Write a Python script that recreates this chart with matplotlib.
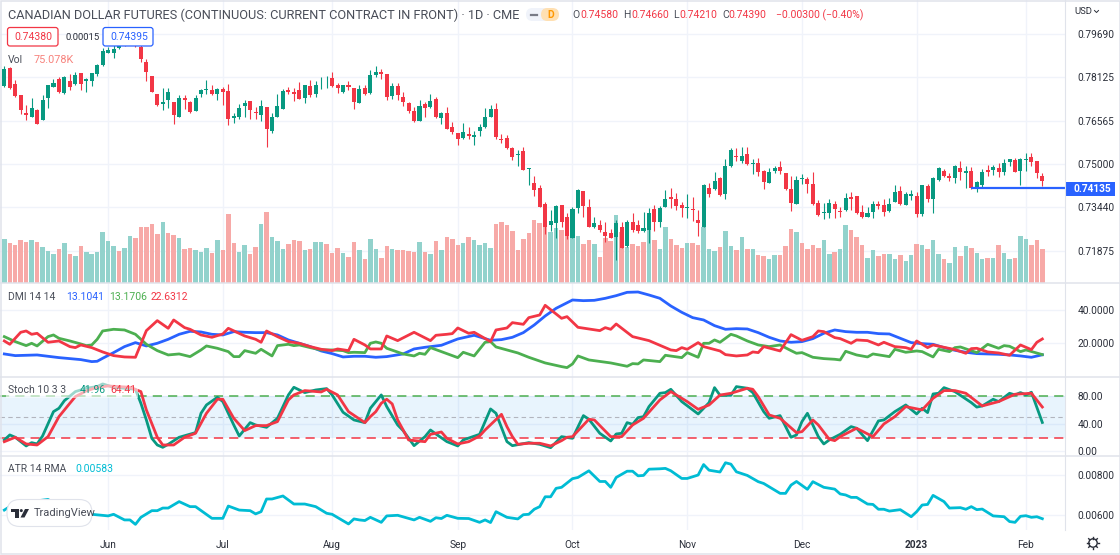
import matplotlib
matplotlib.use("Agg")
import matplotlib.pyplot as plt
from matplotlib.patches import FancyBboxPatch, Polygon, Circle, Rectangle

plt.rcParams['font.family'] = ['Roboto', 'DejaVu Sans']

W = 1120
H = 555

# daily candles, Canadian dollar futures
opens = [.7782,.7844,.7788,.7747,.7682,.7670,.7694,.7658,.7736,.7778,
         .7807,.7754,.7798,.7788,.7826,.7798,.7800,.7824,.7855,.7901,
         .7898,.7916,.7952,.7934,.7958,.7922,.7867,.7818,.7753,.7716,
         .7730,.7723,.7670,.7737,.7723,.7692,.7753,.7768,.7768,.7753,
         .7769,.7763,.7667,.7669,.7707,.7727,.7688,.7676,.7706,.7617,
         .7671,.7698,.7765,.7759,.7768,.7736,.7781,.7753,.7794,.7805,
         .7810,.7784,.7761,.7783,.7772,.7721,.7775,.7754,.7821,.7832,
         .7824,.7745,.7780,.7741,.7720,.7691,.7656,.7715,.7704,.7733,
         .7666,.7682,.7634,.7612,.7594,.7607,.7598,.7619,.7632,.7671,
         .7698,.7590,.7595,.7559,.7532,.7547,.7482,.7432,.7414,.7357,
         .7280,.7289,.7351,.7309,.7235,.7340,.7402,.7345,.7274,.7280,
         .7256,.7250,.7238,.7274,.7206,.7291,.7280,.7259,.7262,.7338,
         .7292,.7345,.7381,.7373,.7352,.7342,.7339,.7298,.7274,.7414,
         .7410,.7450,.7393,.7494,.7530,.7511,.7535,.7500,.7505,.7475,
         .7433,.7476,.7489,.7466,.7410,.7357,.7446,.7446,.7428,.7361,
         .7325,.7322,.7357,.7331,.7334,.7382,.7385,.7327,.7310,.7328,
         .7355,.7352,.7331,.7364,.7403,.7352,.7384,.7385,.7320,.7422,
         .7374,.7441,.7474,.7456,.7451,.7484,.7469,.7474,.7412,.7426,
         .7478,.7480,.7484,.7471,.7508,.7516,.7475,.7516,.7525,.7511,.7458]
highs = [.7853,.7850,.7802,.7747,.7711,.7737,.7697,.7747,.7786,.7806,
         .7812,.7817,.7824,.7831,.7826,.7809,.7829,.7859,.7916,.7922,
         .7946,.7964,.7964,.7970,.7970,.7946,.7879,.7818,.7753,.7772,
         .7772,.7723,.7748,.7748,.7726,.7748,.7771,.7802,.7784,.7774,
         .7776,.7788,.7685,.7715,.7730,.7727,.7704,.7730,.7706,.7682,
         .7752,.7769,.7776,.7772,.7794,.7786,.7802,.7800,.7812,.7817,
         .7831,.7790,.7786,.7799,.7772,.7784,.7784,.7838,.7854,.7842,
         .7824,.7790,.7790,.7758,.7722,.7704,.7730,.7724,.7751,.7740,
         .7687,.7706,.7652,.7613,.7649,.7632,.7620,.7644,.7700,.7712,
         .7718,.7607,.7605,.7561,.7550,.7561,.7487,.7457,.7423,.7364,
         .7334,.7351,.7351,.7322,.7344,.7410,.7404,.7374,.7310,.7298,
         .7292,.7265,.7298,.7292,.7298,.7325,.7298,.7327,.7340,.7352,
         .7350,.7406,.7412,.7394,.7364,.7392,.7382,.7334,.7428,.7430,
         .7472,.7454,.7517,.7559,.7556,.7560,.7561,.7517,.7520,.7478,
         .7484,.7493,.7511,.7469,.7458,.7457,.7464,.7452,.7472,.7370,
         .7358,.7375,.7368,.7344,.7397,.7398,.7386,.7351,.7346,.7368,
         .7368,.7373,.7376,.7423,.7421,.7399,.7405,.7398,.7424,.7428,
         .7452,.7489,.7481,.7466,.7496,.7511,.7494,.7490,.7439,.7482,
         .7496,.7496,.7502,.7519,.7519,.7520,.7520,.7538,.7540,.7512,.7466]
lows = [.7778,.7769,.7742,.7680,.7658,.7668,.7644,.7658,.7700,.7776,
        .7754,.7752,.7766,.7786,.7766,.7761,.7781,.7817,.7853,.7898,
        .7880,.7913,.7925,.7930,.7922,.7867,.7798,.7759,.7709,.7694,
        .7700,.7644,.7668,.7697,.7682,.7690,.7742,.7752,.7750,.7730,
        .7714,.7642,.7649,.7661,.7670,.7663,.7661,.7656,.7562,.7613,
        .7670,.7697,.7752,.7728,.7733,.7721,.7742,.7740,.7769,.7772,
        .7776,.7757,.7757,.7766,.7697,.7718,.7747,.7752,.7814,.7807,
        .7730,.7733,.7730,.7709,.7685,.7652,.7654,.7670,.7700,.7666,
        .7644,.7625,.7608,.7567,.7591,.7589,.7567,.7601,.7631,.7670,
        .7589,.7574,.7553,.7514,.7493,.7478,.7426,.7386,.7346,.7247,
        .7260,.7232,.7272,.7229,.7232,.7325,.7308,.7272,.7270,.7256,
        .7220,.7232,.7156,.7196,.7202,.7256,.7250,.7254,.7217,.7260,
        .7274,.7344,.7340,.7334,.7310,.7304,.7296,.7241,.7272,.7382,
        .7408,.7385,.7373,.7490,.7512,.7502,.7495,.7464,.7458,.7411,
        .7430,.7469,.7464,.7406,.7332,.7356,.7428,.7394,.7352,.7313,
        .7302,.7304,.7304,.7310,.7332,.7334,.7320,.7304,.7308,.7304,
        .7337,.7313,.7328,.7362,.7352,.7351,.7370,.7310,.7313,.7362,
        .7322,.7439,.7452,.7440,.7430,.7442,.7412,.7410,.7400,.7412,
        .7457,.7460,.7452,.7460,.7494,.7471,.7426,.7475,.7494,.7450,.7421]
closes = [.7841,.7772,.7745,.7696,.7675,.7700,.7644,.7730,.7786,.7790,
          .7759,.7812,.7778,.7820,.7788,.7805,.7826,.7856,.7908,.7910,
          .7913,.7946,.7928,.7958,.7925,.7877,.7831,.7759,.7712,.7723,
          .7759,.7675,.7738,.7730,.7688,.7738,.7766,.7770,.7753,.7769,
          .7759,.7662,.7673,.7703,.7718,.7696,.7682,.7709,.7625,.7670,
          .7709,.7763,.7758,.7751,.7734,.7783,.7748,.7786,.7796,.7807,
          .7781,.7772,.7783,.7778,.7724,.7770,.7751,.7820,.7832,.7823,
          .7742,.7780,.7748,.7722,.7690,.7656,.7707,.7702,.7726,.7670,
          .7685,.7627,.7615,.7590,.7615,.7601,.7605,.7632,.7670,.7697,
          .7597,.7588,.7558,.7524,.7535,.7480,.7484,.7408,.7346,.7274,
          .7295,.7349,.7292,.7242,.7337,.7408,.7349,.7274,.7286,.7262,
          .7242,.7235,.7289,.7199,.7292,.7261,.7259,.7270,.7322,.7290,
          .7343,.7374,.7374,.7349,.7340,.7344,.7334,.7288,.7426,.7393,
          .7440,.7388,.7493,.7549,.7526,.7529,.7501,.7504,.7472,.7435,
          .7472,.7487,.7474,.7410,.7361,.7442,.7448,.7429,.7355,.7316,
          .7327,.7361,.7338,.7326,.7378,.7374,.7322,.7309,.7325,.7355,
          .7349,.7327,.7356,.7399,.7357,.7393,.7393,.7320,.7423,.7373,
          .7450,.7484,.7458,.7450,.7493,.7471,.7475,.7412,.7434,.7472,
          .7471,.7488,.7471,.7502,.7517,.7472,.7518,.7519,.7506,.7468,.7439]

# volume in thousands, u / d is the bar colour
volumes = [97.9,89.0,84.6,96.5,91.3,95.7,90.5,80.1,71.2,65.3,
           74.9,89.0,63.8,60.1,82.4,69.0,63.8,69.0,112.8,92.8,
           82.4,72.0,77.9,104.6,100.9,125.4,123.9,131.3,109.1,136.5,
           111.3,106.8,100.2,76.4,77.9,73.5,69.0,77.9,66.8,95.0,
           72.7,152.9,89.0,69.0,85.3,65.3,80.1,131.3,158.0,101.7,
           92.8,74.9,86.8,95.0,92.8,72.7,74.9,91.3,91.3,86.8,
           67.5,77.9,66.8,58.6,91.3,72.7,52.7,97.9,74.9,55.7,
           81.6,74.9,72.7,72.7,70.5,69.0,91.3,69.0,65.3,92.8,
           72.7,101.7,97.9,83.8,89.0,101.7,95.0,83.8,89.0,77.9,
           131.3,136.5,129.1,116.5,72.7,98.7,111.3,140.2,132.8,146.2,
           113.5,123.2,118.0,109.1,100.9,105.4,87.6,96.5,87.6,57.9,
           100.2,92.8,151.4,113.5,80.9,87.6,82.4,91.3,125.4,95.0,
           74.9,125.4,97.9,83.8,77.9,89.0,89.0,83.8,125.4,76.4,
           71.2,80.1,116.5,82.4,74.2,101.7,76.4,76.4,61.6,60.1,
           52.7,63.1,63.1,81.6,120.2,114.3,89.0,74.9,83.8,77.9,
           95.0,65.3,69.0,76.4,129.1,118.0,101.7,83.8,56.4,72.7,
           60.1,63.8,65.3,54.2,61.6,49.0,61.6,87.6,85.3,74.9,
           96.5,65.3,52.7,45.3,80.1,60.1,81.6,78.7,67.5,54.2,
           54.9,54.9,83.8,67.5,54.2,56.4,103.9,97.9,83.8,96.5,75.1]
vol_dir = ("udddd" "uduuu" "dudud" "uuuuu" "uduud" "ddddu" "ddudd" "uuudu"
           "ddduu" "ddudu" "uuddd" "uduud" "ddudd" "uduud" "duddd" "dudud"
           "udddu" "duuuu" "ddddd" "ddddd" "uuddu" "uddud" "ddudu" "dddud"
           "uuddd" "udduu" "uduud" "ududd" "uuddd" "udddd" "uuduu" "ddduu"
           "dduud" "uudud" "uuduu" "duduu" "duduu" "duuddd")

dmi_plus_x = [0,2,4,6,8,10,12,14,16,17,18,20,22,24,26,28,30,32,34,36,38,40,42,44,46,48,50,52,54,56,58,60,62,64,66,68,
              70,73,75,77,80,83,86,89,91,93,95,97,99,101,104,106,108,110,112,114,116,118,120,122,124,126,128,130,132,134,136,
              138,140,142,144,146,148,150,152,154,156,158,160,162,164,166,168,170,172,174,176,178,180,182,184,186,188,190]
dmi_plus = [13.6,12.6,12.8,13.0,12.2,11.4,10.8,10.2,9.0,9.2,11.0,14.4,18.0,20.4,18.4,20.0,22.4,25.4,27.2,26.8,25.4,25.0,27.0,26.6,26.4,26.4,25.0,22.0,20.0,18.0,15.4,13.8,11.8,12.2,12.2,11.6,
            12.0,13.6,16.6,17.6,18.8,22.6,24.8,21.8,22.2,23.6,26.4,31.0,36.4,41.0,46.0,45.6,45.8,47.0,48.6,50.6,50.8,49.0,47.0,42.4,38.6,35.4,34.0,30.6,28.4,28.8,28.6,
            26.4,23.6,21.4,20.6,21.0,22.8,26.0,28.0,27.0,26.6,26.6,25.8,25.6,23.0,20.4,19.8,19.4,17.4,15.8,14.6,13.8,13.6,13.4,13.0,12.4,11.6,13.1]

dmi_minus_x = [0,2,4,5,6,8,9,10,12,14,15,16,17,18,20,22,24,26,28,30,32,34,36,37,39,41,42,43,44,46,47,49,50,52,53,54,56,58,60,62,63,64,66,67,68,
               69,70,73,75,76,77,78,80,83,84,86,88,89,90,94,96,99,102,103,104,105,107,111,114,115,116,117,120,121,124,125,127,128,129,130,131,133,134,136,
               138,140,142,144,145,146,148,150,152,153,154,156,158,159,162,163,165,167,168,170,171,173,174,175,178,180,182,183,184,186,187,190]
dmi_minus = [24.0,21.0,18.6,20.0,18.4,24.0,25.0,23.0,21.4,19.6,18.6,19.0,22.4,27.4,28.4,28.0,25.4,19.4,15.6,13.0,13.6,12.0,16.0,18.4,17.0,15.0,12.0,12.0,15.6,14.0,16.4,12.4,18.6,19.4,18.6,19.0,17.4,16.0,16.0,15.6,14.4,14.6,14.4,20.0,20.8,
             20.0,17.0,13.6,12.4,14.0,13.4,17.4,15.0,11.4,14.6,12.4,20.6,21.0,17.8,14.2,11.6,8.2,6.0,5.4,7.6,12.4,10.0,8.2,6.2,7.8,7.6,10.0,9.0,12.8,11.4,14.4,11.6,20.0,20.0,22.0,20.6,25.4,24.4,21.4,
             19.0,18.0,19.0,15.6,14.0,14.4,11.6,10.8,10.4,10.0,15.2,13.0,11.8,13.6,12.0,16.4,14.6,15.4,15.0,11.8,16.4,15.0,17.4,17.8,14.4,19.4,17.0,18.6,18.2,15.0,16.0,13.2]

adx_x = [0,1,3,4,5,6,8,10,12,13,14,16,18,20,22,24,26,28,30,31,33,34,36,38,40,41,44,46,47,48,50,52,54,56,58,60,61,63,64,66,67,
         69,70,72,75,78,79,81,82,83,85,86,89,90,92,93,95,96,98,99,102,103,105,107,109,110,111,112,115,118,122,123,124,125,127,128,131,132,134,136,
         137,138,139,142,144,146,148,149,150,152,153,155,156,158,160,161,163,165,166,167,169,170,174,176,177,178,180,182,184,186,188,189,190]
adx = [21.4,19.4,26.6,27.4,25.4,26.0,20.6,21.4,18.0,17.4,19.0,17.4,14.8,12.6,11.8,11.6,27.6,33.6,29.0,34.0,29.4,28.4,25.0,23.6,25.6,29.0,24.4,22.4,20.6,27.4,24.0,21.0,20.0,18.0,16.4,15.6,16.6,15.6,22.4,19.0,16.6,
       16.6,24.4,21.6,26.6,21.6,24.8,25.4,25.8,29.2,26.0,26.6,21.0,28.0,29.2,32.4,31.4,35.4,37.0,42.8,35.0,36.0,29.6,28.6,27.6,29.4,28.4,31.6,24.0,21.6,16.0,15.6,17.4,16.4,20.4,18.0,15.4,13.2,12.4,13.0,
       14.8,14.4,18.0,15.4,25.2,21.8,24.0,27.4,27.0,23.4,22.8,20.0,22.0,21.6,19.0,20.6,18.0,17.4,16.4,21.4,17.4,19.0,16.2,14.0,16.8,17.0,14.8,14.2,12.8,19.0,16.2,20.6,22.6]

stoch_k_x = [0,1,2,4,5,6,7,9,10,11,13,15,17,18,20,22,24,25,26,27,28,29,30,32,35,36,37,39,40,42,43,45,46,48,50,52,53,55,57,59,60,62,64,66,67,69,
             70,72,73,75,77,78,79,81,83,84,87,89,90,92,93,96,98,100,102,104,106,107,109,111,112,113,114,115,116,117,118,120,121,122,124,127,129,130,131,133,134,136,
             137,139,140,142,144,145,146,147,149,150,151,153,155,156,158,160,161,163,165,167,168,169,170,171,172,174,177,178,179,181,182,184,185,186,187,188,190]
stoch_k = [16.5,23.8,20.4,7.8,12.6,10.7,22.3,57.7,62.6,73.7,86.8,91.7,94.1,98.0,93.1,91.7,90.2,69.8,45.6,18.9,9.2,5.8,10.2,20.4,27.2,55.3,67.4,78.6,72.3,38.3,22.3,41.7,38.3,34.9,48.0,82.0,93.1,85.4,89.2,91.2,82.0,56.8,45.6,41.7,62.6,82.0,
           65.0,38.3,30.1,8.2,21.3,31.0,25.2,14.1,7.8,16.5,24.7,61.6,55.3,14.1,8.2,12.6,10.2,5.3,21.3,18.9,51.9,46.6,26.2,15.0,25.2,26.2,41.7,39.3,49.0,50.4,65.0,84.4,85.4,90.2,72.3,54.3,70.8,92.6,81.5,81.5,94.1,91.7,
           85.4,57.7,48.0,51.9,20.4,23.8,43.2,55.3,21.3,10.7,16.5,24.7,35.9,33.5,15.5,44.2,45.6,57.7,67.4,54.3,62.6,56.3,83.4,84.4,92.6,86.8,70.8,64.3,66.0,75.7,72.3,84.4,82.0,85.4,82.0,85.9,41.96]

stoch_d_x = [0,2,4,6,8,10,12,13,15,17,19,21,23,25,26,28,29,31,33,35,37,39,40,42,44,46,48,50,52,53,55,58,59,61,63,66,67,68,69,
             70,71,72,74,77,78,80,81,83,85,87,88,91,92,93,94,96,98,100,102,103,104,107,108,111,113,115,117,120,122,125,127,129,131,133,134,136,
             137,138,140,142,145,146,148,149,151,152,153,156,159,161,163,165,168,170,172,174,176,179,182,185,188,190]
stoch_d = [14.0,20.4,10.7,9.2,21.3,50.4,69.9,79.5,87.8,93.1,95.0,94.1,93.1,86.8,60.2,20.4,9.2,9.2,20.4,26.2,55.3,75.7,75.7,48.0,30.1,37.4,37.4,43.2,74.7,82.0,88.3,86.3,90.2,82.0,57.7,41.7,50.4,57.7,69.9,
           75.7,68.9,45.6,16.5,14.0,24.7,28.1,18.9,10.7,14.0,22.3,31.0,53.8,35.9,21.3,10.2,11.7,11.7,7.8,15.5,20.4,21.3,46.6,45.6,21.3,21.3,38.3,48.0,74.7,86.8,72.3,61.1,67.4,81.8,84.4,86.8,91.7,
           90.2,79.5,52.9,48.0,27.2,28.6,45.6,38.3,17.5,15.5,21.3,33.5,21.3,39.8,50.4,65.0,60.2,77.1,88.3,88.3,84.4,66.0,72.3,83.0,84.4,64.41]

atr_x = [0,1,3,5,8,10,12,14,16,19,20,22,23,24,25,27,28,29,30,32,34,35,38,40,41,43,45,46,47,48,49,51,53,55,57,59,60,63,64,65,66,67,69,
         70,72,75,76,78,79,80,81,83,85,87,88,89,90,92,94,95,96,97,98,99,100,101,102,104,105,107,109,110,111,112,114,115,116,117,118,120,121,122,124,125,127,128,129,131,132,133,134,136,
         138,139,142,143,144,145,147,148,150,152,153,154,155,156,158,159,160,161,162,164,166,167,168,169,170,172,173,175,176,177,178,179,181,183,184,185,186,187,188,189,190]
atr = [.00626,.00643,.00659,.00668,.00679,.00643,.00626,.00618,.00605,.00597,.00605,.00577,.00577,.00555,.00590,.00623,.00623,.00636,.00636,.00668,.00643,.00643,.00585,.00585,.00646,.00626,.00623,.00607,.00618,.00681,.00681,.00696,.00656,.00656,.00643,.00610,.00605,.00557,.00582,.00577,.00574,.00590,.00565,
       .00597,.00600,.00577,.00590,.00570,.00588,.00584,.00600,.00585,.00584,.00565,.00577,.00564,.00618,.00590,.00582,.00603,.00605,.00630,.00643,.00692,.00692,.00734,.00739,.00782,.00788,.00821,.00768,.00768,.00739,.00788,.00819,.00819,.00796,.00798,.00829,.00831,.00833,.00821,.00783,.00783,.00800,.00852,.00824,.00815,.00861,.00854,.00816,.00798,
       .00767,.00758,.00709,.00709,.00750,.00768,.00729,.00767,.00739,.00730,.00706,.00701,.00689,.00689,.00656,.00654,.00630,.00630,.00621,.00628,.00593,.00618,.00651,.00654,.00699,.00668,.00636,.00638,.00630,.00643,.00628,.00631,.00597,.00593,.00569,.00565,.00595,.00598,.00590,.00593,.00583]

month_pos = [19, 40, 60, 83, 104, 125, 146, 167, 187]
month_labels = ["Jun", "Jul", "Aug", "Sep", "Oct", "Nov", "Dec", "2023", "Feb"]
price_ticks = [0.79690, 0.78125, 0.76565, 0.75000, 0.73440, 0.71875]
dmi_ticks = [40, 20]
stoch_ticks = [80, 40, 0]
atr_ticks = [0.008, 0.006]
last_price_line = 0.74135
line_start = 177

UP = "#089981"
DOWN = "#f23645"
VOL_UP = "#92d2cc"
VOL_DOWN = "#f7a9a7"
BLUE = "#2962ff"
GREEN = "#4caf50"
CYAN = "#00bcd4"
GRID = "#f0f3fa"
SEP = "#e0e3eb"
TEXT = "#2a2e39"
LABEL = "#4a4e59"
TICK = 7.3
LEG = 7.5
XLIM = (-0.79, 194.15)
PRICE_LIM = (0.70716, 0.80904)

fig = plt.figure(figsize=(W / 100, H / 100), dpi=100)


def pane(top, bottom):
    ax = fig.add_axes([0, 1 - bottom / H, 1065 / W, (bottom - top) / H])
    ax.set_xlim(*XLIM)
    ax.set_xticks(month_pos)
    ax.set_xticklabels([])
    ax.grid(True, color=GRID, lw=1)
    ax.set_axisbelow(True)
    ax.yaxis.tick_right()
    ax.tick_params(axis='both', length=0, labelsize=TICK, labelcolor=TEXT, pad=9)
    for s in ax.spines.values():
        s.set_visible(False)
    return ax


# price pane in three layers: grid, then volume, then candles
ax_grid = pane(0, 283)
ax_grid.set_ylim(*PRICE_LIM)
ax_grid.set_yticks(price_ticks)
ax_grid.set_yticklabels(["%.5f" % p for p in price_ticks])

ax_vol = pane(0, 283)
ax_vol.patch.set_visible(False)
ax_vol.grid(False)
ax_vol.set_ylim(0, 630)
ax_vol.set_yticks([])
ax_vol.set_xticks([])
ax_vol.bar(range(len(volumes)), volumes, width=0.82,
           color=[VOL_UP if d == "u" else VOL_DOWN for d in vol_dir])

ax = pane(0, 283)
ax.patch.set_visible(False)
ax.grid(False)
ax.set_ylim(*PRICE_LIM)
ax.set_yticks([])
ax.set_xticks([])
colors = [UP if c >= o else DOWN for o, c in zip(opens, closes)]
ax.vlines(range(len(opens)), lows, highs, color=colors, lw=0.8, zorder=2)
ax.bar(range(len(opens)), [abs(c - o) for o, c in zip(opens, closes)],
       bottom=[min(o, c) for o, c in zip(opens, closes)],
       width=0.74, color=colors, zorder=3)
ax.hlines(last_price_line, line_start, XLIM[1], color=BLUE, lw=1.6, zorder=4)

ax_dmi = pane(283, 376.5)
ax_dmi.set_ylim(0.06, 56.2)
ax_dmi.set_yticks(dmi_ticks)
ax_dmi.set_yticklabels(["%.4f" % t for t in dmi_ticks])
ax_dmi.plot(dmi_plus_x, dmi_plus, color=BLUE, lw=2)
ax_dmi.plot(dmi_minus_x, dmi_minus, color=GREEN, lw=2)
ax_dmi.plot(adx_x, adx, color=DOWN, lw=2)

ax_st = pane(376.5, 455.5)
ax_st.set_ylim(-6.1, 108.8)
ax_st.set_yticks(stoch_ticks)
ax_st.set_yticklabels(["%.2f" % t for t in stoch_ticks])
ax_st.axhspan(20, 80, color="#2196f3", alpha=0.1, lw=0)
ax_st.axhline(80, color=GREEN, lw=1.1, dashes=(6, 4))
ax_st.axhline(50, color="#b2b5be", lw=0.8, dashes=(4, 3))
ax_st.axhline(20, color=DOWN, lw=1.1, dashes=(6, 4))
ax_st.plot(stoch_k_x, stoch_k, color=UP, lw=2)
ax_st.plot(stoch_d_x, stoch_d, color=DOWN, lw=2)

ax_atr = pane(455.5, 530)
ax_atr.set_ylim(0.00527, 0.00897)
ax_atr.set_yticks(atr_ticks)
ax_atr.set_yticklabels(["%.5f" % t for t in atr_ticks])
ax_atr.plot(atr_x, atr, color=CYAN, lw=2)
ax_atr.set_xticklabels(month_labels)
ax_atr.tick_params(axis='x', labelsize=TICK, labelcolor=TEXT, pad=7)
ax_atr.get_xticklabels()[7].set_fontweight('bold')

# everything that sits over the panes, in pixel coordinates
top = fig.add_axes([0, 0, 1, 1], zorder=10)
top.set_xlim(0, W)
top.set_ylim(H, 0)
top.axis('off')

for y in (283, 376.5, 455.5):
    top.plot([0, W], [y, y], color=SEP, lw=1.1)
top.plot([1065, 1065], [0, 530], color=SEP, lw=0.8)
top.add_patch(Rectangle((0.5, 0.5), W - 1, H - 1.5, fill=False, ec=SEP, lw=1.1))


def label(x, y, s, color=TEXT, size=LEG, **kw):
    return top.text(x, y, s, color=color, fontsize=size, va='center', ha='left', **kw)


label(8, 15, "CANADIAN DOLLAR FUTURES (CONTINUOUS: CURRENT CONTRACT IN FRONT) · 1D · CME",
      color=LABEL, size=9.2)
top.add_patch(FancyBboxPatch((526, 8), 26, 13, boxstyle="round,pad=0,rounding_size=6.5",
                             fc="#f0f3fa", ec="none"))
top.add_patch(FancyBboxPatch((541, 8), 18, 13, boxstyle="round,pad=0,rounding_size=6.5",
                             fc="#ffe0b2", ec="none"))
top.plot([531, 537], [14.5, 14.5], color="#787b86", lw=1.6)
label(547, 14.5, "D", color="#ff9800", size=7.5, fontweight='bold')

for x, s in [(572, "O"), (622.7, "H"), (673, "L"), (722, "C")]:
    label(x, 15, s, color=LABEL)
for x, s in [(580, "0.74580"), (631, "0.74660"), (679, "0.74210"), (728, "0.74390"),
             (775.5, "−0.00300 (−0.40%)")]:
    label(x, 15, s, color=DOWN)

top.add_patch(FancyBboxPatch((7.5, 27.5), 50.5, 18.5, boxstyle="round,pad=0,rounding_size=2.5",
                             fc="white", ec=DOWN, lw=0.9))
label(14, 37, "0.74380", color=DOWN)
label(65, 37, "0.00015", size=6.8)
top.add_patch(FancyBboxPatch((103, 27.5), 50, 18.5, boxstyle="round,pad=0,rounding_size=2.5",
                             fc="white", ec=BLUE, lw=0.9))
label(110, 37, "0.74395", color=BLUE)
label(8, 60, "Vol", color=LABEL)
label(34, 60, "75.078K", color="#f7827c", size=7.8)

label(8, 297, "DMI 14 14", color=LABEL)
label(66, 297, "13.1041", color=BLUE)
label(109, 297, "13.1706", color=GREEN)
label(151, 297, "22.6312", color=DOWN)

top.add_patch(Rectangle((6, 382), 132, 16, fc="white", ec="none", alpha=0.6))
label(8, 390, "Stoch 10 3 3", color=LABEL)
label(80, 390, "41.96", color=UP)
label(110, 390, "64.41", color=DOWN)

label(8, 469, "ATR 14 RMA", color=LABEL)
label(75, 469, "0.00583", color=CYAN)

# TradingView badge
top.add_patch(FancyBboxPatch((7, 499.5), 85, 27, boxstyle="round,pad=0,rounding_size=13",
                             fc="white", ec=SEP, lw=0.8))
top.add_patch(Polygon([(11, 509), (18.5, 509), (18.5, 517.5), (14.5, 517.5), (14.5, 512), (11, 512)],
                      fc=TEXT, ec="none"))
top.add_patch(Circle((21.3, 510.6), 1.5, fc=TEXT, ec="none"))
top.add_patch(Polygon([(25, 509), (29, 509), (24.5, 517.5), (20.5, 517.5)], fc=TEXT, ec="none"))
label(33.5, 513.5, "TradingView", color=LABEL, size=8)

# price tag for the horizontal line
top.add_patch(Rectangle((1066, 181.5), 48.5, 14.5, fc=BLUE, ec="none"))
label(1074, 188.5, "0.74135", color="white", size=TICK, fontweight='bold')

label(1074, 11.5, "USD", size=6.8)
top.plot([1094.5, 1096.5, 1098.5], [10.5, 12.5, 10.5], color=TEXT, lw=0.7)

# settings gear
top.add_patch(Circle((1093, 543), 4.2, fill=False, ec=TEXT, lw=1))
for dx, dy in [(0, -6), (0, 6), (-6, 0), (6, 0), (-4.3, -4.3), (4.3, -4.3), (-4.3, 4.3), (4.3, 4.3)]:
    top.plot([1093 + dx * 0.75, 1093 + dx], [543 + dy * 0.75, 543 + dy], color=TEXT, lw=1)

fig.savefig("out.png", dpi=100)
